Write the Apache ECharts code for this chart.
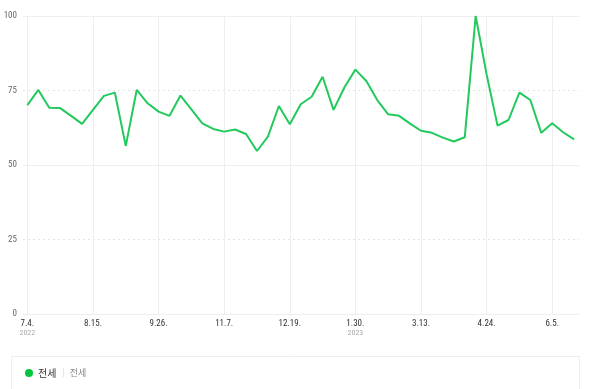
<!DOCTYPE html>
<html>
<head>
<meta charset="utf-8">
<script src="https://cdn.jsdelivr.net/npm/echarts@6/dist/echarts.min.js"></script>
<style>html,body{margin:0;padding:0;background:#fff;}#c{width:600px;height:389px;}</style>
</head>
<body>
<div id="c"></div>
<script>
const dates = ['7.4.','7.11.','7.18.','7.25.','8.1.','8.8.','8.15.','8.22.','8.29.','9.5.','9.12.','9.19.','9.26.','10.3.','10.10.','10.17.','10.24.','10.31.','11.7.','11.14.','11.21.','11.28.','12.5.','12.12.','12.19.','12.26.','1.2.','1.9.','1.16.','1.23.','1.30.','2.6.','2.13.','2.20.','2.27.','3.6.','3.13.','3.20.','3.27.','4.3.','4.10.','4.17.','4.24.','5.1.','5.8.','5.15.','5.22.','5.29.','6.5.','6.12.','6.19.'];
const values = [70.1,75.2,69.2,69.1,66.5,63.8,68.5,73.2,74.3,56.4,75.2,70.7,67.9,66.5,73.3,68.7,64.0,62.1,61.2,61.9,60.4,54.7,59.5,69.8,63.7,70.4,72.9,79.6,68.5,76.1,82.0,78.2,71.8,67.0,66.5,63.9,61.5,60.8,59.2,57.9,59.3,100,80.4,63.2,65.1,74.3,71.8,60.8,64.0,61.0,58.6];
const tickIndex = [0,6,12,18,24,30,36,42,48];
const yearLabels = {0:'2022',30:'2023'};
const seriesName = '전세';
const seriesSub = '전세';

const chart = echarts.init(document.getElementById('c'));
const font = "'Liberation Sans Narrow','Roboto Condensed','Liberation Sans',sans-serif";
chart.setOption({
  animation:false,
  grid:{left:23,right:21,top:16,bottom:75},
  xAxis:{
    type:'value',min:-0.4,max:50.45,
    axisLine:{show:false},
    axisTick:{show:false,customValues:tickIndex},
    splitLine:{show:true,lineStyle:{color:'#eeeeee',width:1}},
    axisLabel:{
      customValues:tickIndex,
      margin:5,
      formatter:function(v){
        const i=Math.round(v);
        let s='{d|'+dates[i]+'}';
        if(yearLabels[i]) s+='\n{y|'+yearLabels[i]+'}';
        return s;
      },
      rich:{
        d:{fontSize:9,color:'#333',fontFamily:font,lineHeight:9},
        y:{fontSize:8,color:'#aaa',fontFamily:font,lineHeight:9}
      }
    }
  },
  yAxis:[{
    type:'value',min:0,max:100,interval:25,
    axisLine:{show:false},axisTick:{show:false},
    axisLabel:{margin:6,fontSize:9,color:'#666',fontFamily:font},
    splitLine:{show:true,lineStyle:{color:'#e4e4e4',type:[2,3],width:1}}
  },{
    type:'value',min:0,max:100,interval:50,position:'left',
    axisLine:{show:false},axisTick:{show:false},axisLabel:{show:false},
    splitLine:{show:true,lineStyle:{color:'#eeeeee',type:'solid',width:1}}
  }],
  legend:{
    left:20,top:363,icon:'circle',itemWidth:8,itemHeight:8,itemGap:10,
    data:[seriesName],
    formatter:function(n){return '{a|'+n+'}{s||}{b|'+seriesSub+'}';},
    textStyle:{
      rich:{
        a:{fontSize:10,color:'#333',fontFamily:"'Noto Sans CJK KR',sans-serif"},
        s:{fontSize:9,color:'#ddd',padding:[0,5,0,6]},
        b:{fontSize:9,color:'#888',fontFamily:"'Noto Sans CJK KR',sans-serif"}
      }
    }
  },
  graphic:[{type:'rect',shape:{x:11.5,y:356.5,width:568,height:40},style:{fill:'none',stroke:'#eeeeee',lineWidth:1},z:-1}],
  series:[{
    name:seriesName,type:'line',
    data:values.map((v,i)=>[i,v]),
    showSymbol:false,symbol:'circle',
    lineStyle:{color:'#22c95c',width:2},
    itemStyle:{color:'#00c73c'}
  }]
});
</script>
</body>
</html>
